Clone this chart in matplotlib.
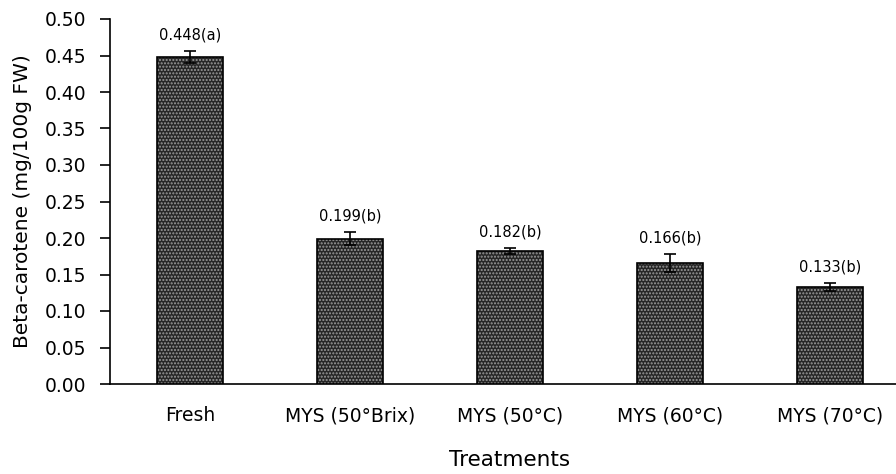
import matplotlib.pyplot as plt
import numpy as np

# Данные с графика
treatments = ['Fresh', 'MYS (50°Brix)', 'MYS (50°C)', 'MYS (60°C)', 'MYS (70°C)']
beta_carotene = [0.448, 0.199, 0.182, 0.166, 0.133]
errors = [0.008, 0.009, 0.004, 0.012, 0.005]
letters = ['a', 'b', 'b', 'b', 'b']

fig = plt.figure(figsize=(8.96, 4.74), dpi=100)
ax = fig.add_axes([110 / 896, 90 / 474, 800 / 896, 365 / 474])

x = np.arange(len(treatments))
# тёмная заливка + светлые точки поверх
ax.bar(x, beta_carotene, width=0.41, color='#262626', edgecolor='none', zorder=2)
ax.bar(x, beta_carotene, width=0.41, color='none', edgecolor='#9a9a9a',
       hatch='.....', linewidth=0, zorder=3)
ax.bar(x, beta_carotene, width=0.41, color='none', edgecolor='black',
       linewidth=1.2, zorder=4)
ax.errorbar(x, beta_carotene, yerr=errors, fmt='none', ecolor='black',
            elinewidth=1.2, capsize=4, capthick=1.2, zorder=5)

for xi, v, e, l in zip(x, beta_carotene, errors, letters):
    ax.text(xi, v + e + 0.012, f'{v:.3f}({l})', ha='center', va='bottom', fontsize=10.5)

ax.set_xlim(-0.5, 4.5)
ax.set_ylim(0, 0.5)
ax.set_yticks(np.arange(0, 0.51, 0.05))
ax.set_yticklabels([f'{t:.2f}' for t in np.arange(0, 0.51, 0.05)])
ax.set_xticks(x)
ax.set_xticklabels(treatments)
ax.tick_params(axis='y', direction='out', length=7, width=1.2, labelsize=13.5, pad=10)
ax.tick_params(axis='x', length=0, labelsize=13.5, pad=16)

ax.spines['top'].set_visible(False)
ax.spines['right'].set_visible(False)
ax.spines['left'].set_linewidth(1.2)
ax.spines['bottom'].set_linewidth(1.2)

ax.set_ylabel('Beta-carotene (mg/100g FW)', fontsize=14.5, labelpad=9)
ax.set_xlabel('Treatments', fontsize=15.5, labelpad=18)

fig.savefig('out.png', dpi=100)
